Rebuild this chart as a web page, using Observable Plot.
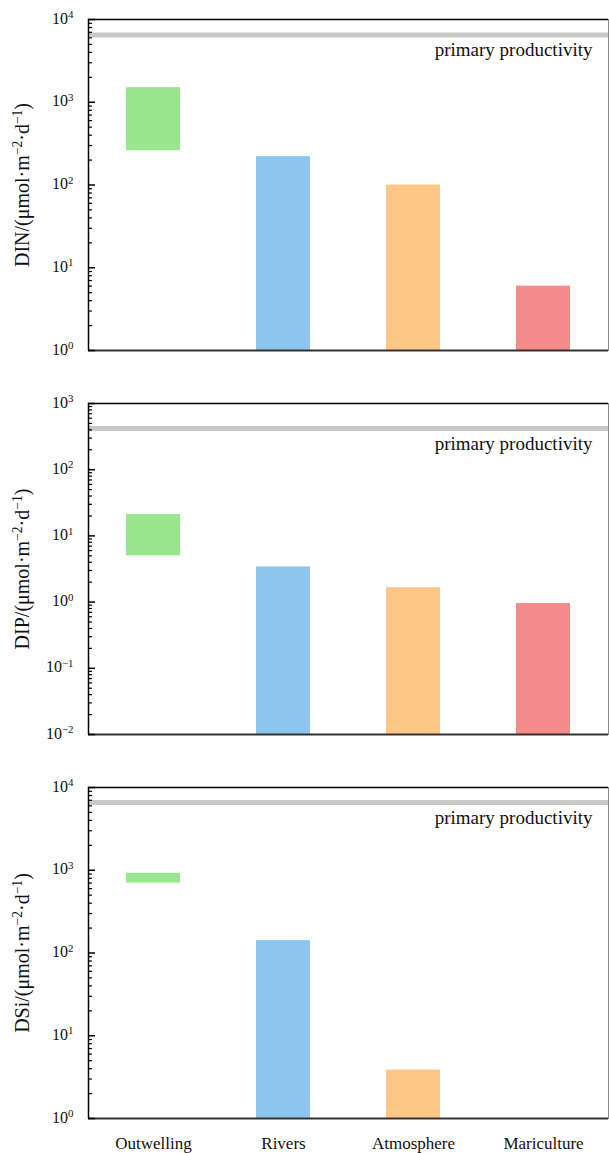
<!DOCTYPE html>
<html>
<head>
<meta charset="utf-8">
<script src="https://cdn.jsdelivr.net/npm/d3@7"></script>
<script src="https://cdn.jsdelivr.net/npm/@observablehq/plot@0.6"></script>
<style>
  html, body { margin: 0; padding: 0; background: #fff; }
  #chart svg { display: block; }
  #chart svg text { font-family: 'Liberation Serif', 'Times New Roman', Times, serif; }
</style>
</head>
<body>
<div id="chart"></div>
<script>
// ---- data ----
const categories = ["Outwelling", "Rivers", "Atmosphere", "Mariculture"];
const barColors = ["#98e78e", "#8ec5ee", "#ffc785", "#f58b8b"];

const dinLow  = [260, 1, 1, 1];
const dinHigh = [1500, 220, 100, 6];

const dipLow  = [5, 0.01, 0.01, 0.01];
const dipHigh = [21, 3.4, 1.65, 0.95];

const dsiLow  = [700, 1, 1, null];
const dsiHigh = [920, 141, 3.85, null];

const productivity = [6500, 420, 6600];
const productivityLabel = "primary productivity";

const yLabels = ["DIN/(μmol·m{−2}·d{−1})", "DIP/(μmol·m{−2}·d{−1})", "DSi/(μmol·m{−2}·d{−1})"];
const yDomains = [[1, 1e4], [0.01, 1e3], [1, 1e4]];
const yExponents = [[0, 1, 2, 3, 4], [-2, -1, 0, 1, 2, 3], [0, 1, 2, 3, 4]];

// ---- helpers ----
function rows(lo, hi) {
  return categories.map((c, i) => ({cat: c, lo: lo[i], hi: hi[i]})).filter(d => d.hi != null);
}
function minorTicks(exps) {
  const out = [];
  for (let k = 0; k < exps.length - 1; k++) {
    for (let m = 2; m <= 9; m++) out.push(m * Math.pow(10, exps[k]));
  }
  return out;
}
function supify(root) {
  root.querySelectorAll("text").forEach(t => {
    const s = t.textContent;
    if (!s.includes("{")) return;
    const parts = s.split(/(\{[^}]*\})/).filter(p => p !== "");
    while (t.firstChild) t.removeChild(t.firstChild);
    let raised = false;
    parts.forEach(p => {
      const ts = document.createElementNS("http://www.w3.org/2000/svg", "tspan");
      if (p.startsWith("{")) {
        ts.textContent = p.slice(1, -1);
        ts.setAttribute("font-size", "0.68em");
        ts.setAttribute("dy", "-0.5em");
        raised = true;
      } else {
        ts.textContent = p;
        if (raised) { ts.setAttribute("dy", "0.34em"); raised = false; }
      }
      t.appendChild(ts);
    });
  });
}

const W = 609, ML = 88, MR = 1, MT = 19;
const frameW = W - ML - MR;
const serif = "'Liberation Serif', 'Times New Roman', Times, serif";
const fmtExp = d => {
  const e = Math.round(Math.log10(d));
  return `10{${e < 0 ? "−" + (-e) : e}}`;
};

function panel(idx, lo, hi, showX, height) {
  const dom = yDomains[idx];
  const exps = yExponents[idx];
  const majors = exps.map(e => Math.pow(10, e));
  const marks = [
    Plot.ruleY([productivity[idx]], {stroke: "#c8c8c8", strokeWidth: 5}),
    Plot.text([productivityLabel], {y: () => productivity[idx], frameAnchor: "right", textAnchor: "end", dx: -16, dy: 15, fontSize: 19, fill: "#111"}),
    Plot.rectY(rows(lo, hi), {x: "cat", y1: "lo", y2: "hi", fill: "cat"}),
    Plot.frame({stroke: "#8a8a8a", strokeWidth: 1}),
    Plot.ruleY([dom[1]], {stroke: "#000", strokeWidth: 1.5}),
    Plot.ruleY([dom[0]], {stroke: "#333", strokeWidth: 2}),
    Plot.tickY(majors, {y: d => d, insetRight: frameW - 7, stroke: "#000", strokeWidth: 1.5}),
    Plot.tickY(minorTicks(exps), {y: d => d, insetRight: frameW - 4, stroke: "#000", strokeWidth: 1.2}),
    Plot.ruleX([categories[0]], {x: d => d, dx: -65, stroke: "#000", strokeWidth: 1.5}),
    Plot.axisY({ticks: majors, tickFormat: fmtExp, tickSize: 0, tickPadding: 15, fontSize: 16, dy: -1, label: null}),
    Plot.text([yLabels[idx]], {frameAnchor: "left", textAnchor: "middle", rotate: -90, dx: -66, fontSize: 20, fill: "#111"})
  ];
  if (showX) marks.push(Plot.axisX({tickSize: 0, tickPadding: 18, fontSize: 17, label: null}));
  const svg = Plot.plot({
    width: W, height, marginLeft: ML, marginRight: MR, marginTop: MT, marginBottom: height - 350,
    style: {fontFamily: serif, fontSize: "15px", background: "#fff", color: "#111"},
    x: {domain: categories, paddingInner: 0.585, paddingOuter: 0.2925, axis: showX ? undefined : null, label: null},
    y: {type: "log", domain: dom, label: null},
    color: {domain: categories, range: barColors},
    marks
  });
  supify(svg);
  return svg;
}

const chart = document.getElementById("chart");
chart.appendChild(panel(0, dinLow, dinHigh, false, 384));
chart.appendChild(panel(1, dipLow, dipHigh, false, 384));
chart.appendChild(panel(2, dsiLow, dsiHigh, true, 385));
</script>
</body>
</html>
